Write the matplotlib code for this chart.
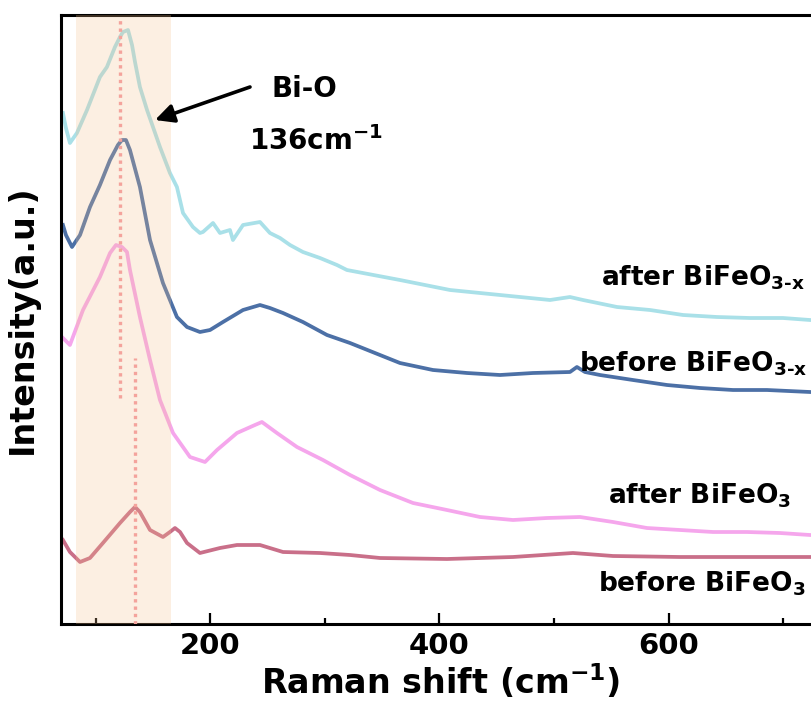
import matplotlib
matplotlib.use("Agg")
import matplotlib.pyplot as plt

plt.rcParams['font.family'] = ['DejaVu Sans']
plt.rcParams['font.weight'] = 'bold'
plt.rcParams['mathtext.fontset'] = 'dejavusans'
plt.rcParams['mathtext.default'] = 'bf'

# ---- data (Raman shift in cm^-1, intensity in arbitrary stacked units) ----
after_x_shift = [71.3, 73.9, 77.4, 83.5, 92.3, 103.6, 109.7, 116.7, 121.1, 123.7, 128.1, 131.6,
                 134.2, 138.5, 144.7, 149.9, 156.0, 164.7, 170.8, 176.1, 184.8, 190.9, 193.5,
                 202.3, 208.4, 217.1, 219.7, 228.5, 243.3, 252.0, 260.8, 269.5, 280.8, 295.7,
                 310.5, 319.2, 365.5, 409.2, 452.8, 496.5, 513.9, 525.3, 555.0, 583.8, 612.6,
                 642.2, 671.1, 699.9, 723.4, 745.0]
after_x_int = [511, 496, 481, 491, 514, 547, 557, 577, 587, 592, 594, 579,
               562, 537, 514, 497, 477, 451, 437, 411, 397, 391, 392,
               401, 391, 394, 384, 399, 402, 391, 386, 379, 372, 366,
               359, 354, 344, 334, 329, 324, 327, 324, 317, 314, 309,
               307, 306, 306, 304, 303]

before_x_shift = [71.3, 73.9, 79.2, 86.2, 94.9, 103.6, 112.4, 119.3, 122.8, 126.3, 129.8, 138.5,
                  147.3, 158.6, 170.8, 179.6, 190.9, 199.7, 211.0, 228.5, 243.3, 252.0, 263.4,
                  280.8, 301.8, 321.9, 365.5, 394.3, 424.0, 452.8, 481.6, 513.9, 520.0, 527.0,
                  540.1, 568.9, 598.6, 627.4, 656.2, 685.9, 723.4, 745.0]
before_x_int = [399, 389, 377, 389, 417, 439, 464, 479, 484, 484, 474, 437,
                384, 341, 307, 297, 292, 294, 302, 314, 319, 316, 311,
                302, 289, 281, 261, 254, 251, 249, 251, 252, 257, 252,
                249, 244, 239, 236, 234, 234, 232, 231]

after_shift = [71.3, 77.4, 88.8, 103.6, 112.4, 117.6, 122.8, 127.2, 129.8, 138.5, 147.3, 156.0,
               167.4, 182.2, 195.3, 205.8, 223.2, 238.9, 245.0, 258.1, 275.6, 298.3, 321.9,
               348.1, 376.9, 406.5, 435.4, 464.2, 493.8, 522.7, 551.5, 581.1, 610.0, 638.8,
               668.4, 697.3, 723.4, 745.0]
after_int = [286, 279, 314, 347, 371, 379, 377, 372, 354, 307, 264, 224,
             191, 167, 162, 174, 191, 199, 202, 191, 177, 164, 149,
             134, 121, 114, 107, 104, 106, 107, 102, 96, 94, 92,
             92, 91, 89, 88]

before_shift = [71.3, 77.4, 86.2, 94.9, 106.2, 121.1, 129.8, 134.2, 138.5, 147.3, 158.6, 164.7,
                169.1, 173.5, 179.6, 190.9, 208.4, 223.2, 243.3, 263.4, 295.7, 321.9, 348.1,
                406.5, 464.2, 516.5, 551.5, 610.0, 668.4, 723.4, 745.0]
before_int = [84, 72, 62, 66, 81, 101, 112, 117, 112, 94, 87, 92,
              96, 92, 81, 71, 76, 79, 79, 72, 71, 69, 66,
              65, 67, 71, 68, 67, 67, 67, 67]

labels = ["after BiFeO$_{3\\text{-}x}$", "before BiFeO$_{3\\text{-}x}$",
          "after BiFeO$_{3}$", "before BiFeO$_{3}$"]
colors = ["#a9e0e8", "#4c70a6", "#f5a6ec", "#c96f89"]

band_range = (82.6, 165.7)
peak_a = 121.1
peak_b = 134.2

# ---- figure ----
W, H = 812, 711
fig = plt.figure(figsize=(W / 100, H / 100), dpi=100)
xmin, xmax = 69.6, 760
px_per_unit = 1.1455
ax_left_px, ax_top_px, ax_bot_px = 61, 15, 624
ax = fig.add_axes([ax_left_px / W, (H - ax_bot_px) / H,
                   (xmax - xmin) * px_per_unit / W, (ax_bot_px - ax_top_px) / H])

series = [(after_x_shift, after_x_int), (before_x_shift, before_x_int),
          (after_shift, after_int), (before_shift, before_int)]
for (xs, ys), c in zip(series, colors):
    ax.plot(xs, ys, color=c, lw=2.7, solid_joinstyle='round', zorder=2)

ax.axvspan(band_range[0], band_range[1], color='#f6c08c', alpha=0.25, lw=0, zorder=3)
ax.plot([peak_a, peak_a], [226, 606], color='#f4a39c', lw=2.4, ls=(0, (1, 1.2)), zorder=4)
ax.plot([peak_b, peak_b], [0, 266], color='#f4a39c', lw=2.4, ls=(0, (1, 1.2)), zorder=4)

ax.set_xlim(xmin, xmax)
ax.set_ylim(0, 609)
ax.set_xticks([200, 400, 600])
ax.set_xticks([100, 300, 500, 700], minor=True)
ax.set_yticks([])
ax.tick_params(axis='x', which='major', direction='in', length=8, width=1.6,
               labelsize=21, pad=6)
ax.tick_params(axis='x', which='minor', direction='in', length=4.5, width=1.6)
for lab in ax.get_xticklabels():
    lab.set_fontweight('bold')
for s in ax.spines.values():
    s.set_linewidth(2.2)

ax.set_ylabel("Intensity(a.u.)", fontsize=24, fontweight='bold', labelpad=16)
ax.set_xlabel("Raman shift (cm$^{-1}$)", fontsize=24, fontweight='bold')
ax.xaxis.set_label_coords(440.5 / W, 1 - 662 / H, transform=fig.transFigure)

ax.annotate("", xy=(151.7, 504), xytext=(234.6, 537),
            arrowprops=dict(arrowstyle='-|>', color='black', lw=2.6, mutation_scale=28,
                            shrinkA=0, shrinkB=0), zorder=5)
ax.text(282, 527, "Bi-O", fontsize=20, fontweight='bold', ha='center', va='baseline')
ax.text(292, 474, "136cm$^{-1}$", fontsize=20, fontweight='bold', ha='center', va='baseline')

label_pos = [(719, 339), (721, 252), (707, 121), (720, 32)]
for (lx, ly), t in zip(label_pos, labels):
    ax.text(lx, ly, t, fontsize=19, fontweight='bold', ha='right', va='baseline')

fig.savefig("out.png", dpi=100)
